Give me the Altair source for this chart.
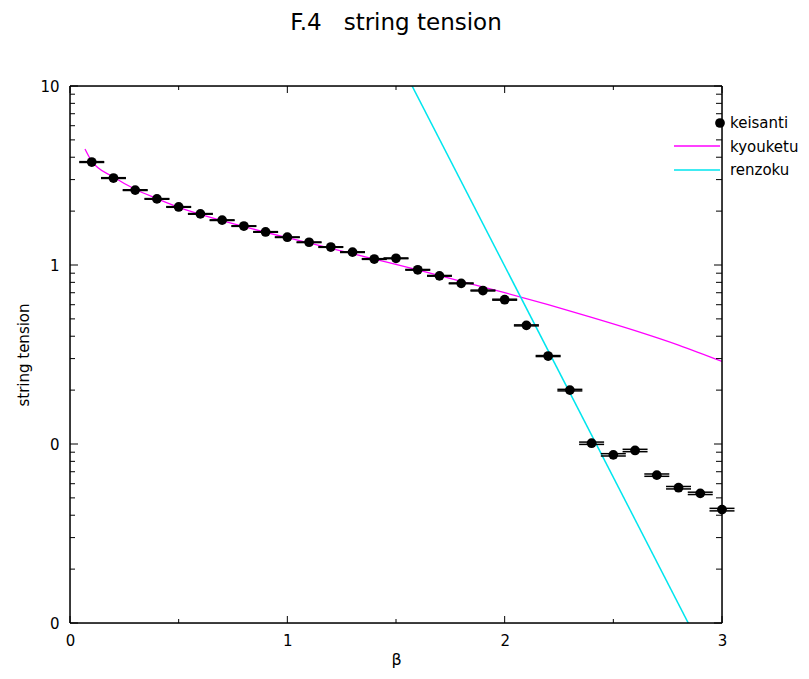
import altair as alt
import pandas as pd

# ---- data ----
beta = [0.1, 0.2, 0.3, 0.4, 0.5, 0.6, 0.7, 0.8, 0.9, 1.0,
        1.1, 1.2, 1.3, 1.4, 1.5, 1.6, 1.7, 1.8, 1.9, 2.0,
        2.1, 2.2, 2.3, 2.4, 2.5, 2.6, 2.7, 2.8, 2.9, 3.0]
sigma = [3.76, 3.06, 2.62, 2.34, 2.11, 1.93, 1.78, 1.65, 1.53, 1.43,
         1.34, 1.26, 1.18, 1.08, 1.09, 0.94, 0.87, 0.79, 0.72, 0.64,
         0.46, 0.31, 0.20, 0.101, 0.087, 0.092, 0.067, 0.057, 0.053, 0.043]
sigma_err = [0.02, 0.015, 0.012, 0.01, 0.009, 0.008, 0.007, 0.006, 0.006, 0.005,
             0.005, 0.005, 0.005, 0.005, 0.005, 0.004, 0.004, 0.004, 0.004, 0.004,
             0.003, 0.002, 0.002, 0.0015, 0.0013, 0.0014, 0.001, 0.0009, 0.0008, 0.0007]

strong_beta = [0.069, 0.1, 0.2, 0.3, 0.4, 0.5, 0.6, 0.8, 1.0, 1.2, 1.4,
               1.6, 1.8, 2.0, 2.2, 2.4, 2.6, 2.8, 3.0]
strong_sigma = [4.45, 3.8, 3.1, 2.65, 2.35, 2.1, 1.92, 1.64, 1.42, 1.24, 1.08,
                0.94, 0.81, 0.70, 0.60, 0.51, 0.43, 0.357, 0.289]

cont_beta = [1.55, 2.90]
cont_sigma = [11.4, 0.0074]

x_major = [0, 1, 2, 3]
x_minor = [0.5, 1.5, 2.5]
y_major = [0.01, 0.1, 1, 10]
y_minor = [2e-2, 3e-2, 4e-2, 5e-2, 6e-2, 7e-2, 8e-2, 9e-2,
           0.2, 0.3, 0.4, 0.5, 0.6, 0.7, 0.8, 0.9,
           2, 3, 4, 5, 6, 7, 8, 9]

legend_names = ["keisanti", "kyouketu", "renzoku"]

W, H = 652, 537
FONT = "DejaVu Sans"

pts = pd.DataFrame({"beta": beta, "sigma": sigma, "err": sigma_err})
strong = pd.DataFrame({"beta": strong_beta, "sigma": strong_sigma})
cont = pd.DataFrame({"beta": cont_beta, "sigma": cont_sigma})

xs = alt.Scale(domain=[0, 3], nice=False, zero=False)
ys = alt.Scale(type="log", domain=[0.01, 10], nice=False)

xaxis = alt.Axis(values=x_major, format="d", ticks=False, domain=False, grid=False,
                 labelFlush=False,
                 labelPadding=10, titlePadding=3, labelFont=FONT, labelFontSize=15,
                 titleFont=FONT, titleFontSize=16, titleFontWeight="normal",
                 labelColor="black", titleColor="black")
yaxis = alt.Axis(values=y_major, ticks=False, domain=False, grid=False,
                 labelFlush=False,
                 labelExpr="datum.value > 5 ? '10' : (datum.value > 0.5 ? '1' : '0')",
                 labelPadding=11, titlePadding=8, labelFont=FONT, labelFontSize=15,
                 titleFont=FONT, titleFontSize=15, titleFontWeight="normal",
                 labelColor="black", titleColor="black")


def X(f):
    return alt.X(f, type="quantitative", scale=xs, axis=xaxis, title="β")


def Y(f):
    return alt.Y(f, type="quantitative", scale=ys, axis=yaxis, title="string tension")


base_pts = alt.Chart(pts).transform_calculate(
    lo="datum.sigma - datum.err", hi="datum.sigma + datum.err",
    xl="datum.beta - 0.0575", xh="datum.beta + 0.0575")

err_lo = base_pts.mark_rule(color="black", strokeWidth=1.5).encode(
    x=X("xl"), x2="xh", y=Y("lo"))
err_hi = base_pts.mark_rule(color="black", strokeWidth=1.5).encode(
    x=X("xl"), x2="xh", y=Y("hi"))
err_v = base_pts.mark_rule(color="black", strokeWidth=1).encode(
    x=X("beta"), y=Y("lo"), y2="hi")

points = alt.Chart(pts).mark_circle(color="black", opacity=1, size=95).encode(
    x=X("beta"), y=Y("sigma"))

strong_line = alt.Chart(strong).mark_line(color="#ff00ff", strokeWidth=1.3, clip=True,
                                          interpolate="monotone").encode(
    x=X("beta"), y=Y("sigma"))
cont_line = alt.Chart(cont).mark_line(color="#00e5ee", strokeWidth=1.5, clip=True).encode(
    x=X("beta"), y=Y("sigma"))

# tick marks (inside, mirrored)
ym = pd.DataFrame({"v": y_major})
yn = pd.DataFrame({"v": y_minor})
xm = pd.DataFrame({"v": x_major})
xn = pd.DataFrame({"v": x_minor})
tk = dict(color="black", strokeWidth=1)
ticks = [
    alt.Chart(ym).mark_rule(**tk).encode(y=Y("v"), x=alt.value(0), x2=alt.value(8)),
    alt.Chart(ym).mark_rule(**tk).encode(y=Y("v"), x=alt.value(W), x2=alt.value(W - 8)),
    alt.Chart(yn).mark_rule(**tk).encode(y=Y("v"), x=alt.value(0), x2=alt.value(5)),
    alt.Chart(yn).mark_rule(**tk).encode(y=Y("v"), x=alt.value(W), x2=alt.value(W - 6)),
    alt.Chart(xm).mark_rule(**tk).encode(x=X("v"), y=alt.value(H), y2=alt.value(H - 7)),
    alt.Chart(xm).mark_rule(**tk).encode(x=X("v"), y=alt.value(0), y2=alt.value(7)),
    alt.Chart(xn).mark_rule(**tk).encode(x=X("v"), y=alt.value(H), y2=alt.value(H - 4)),
    alt.Chart(xn).mark_rule(**tk).encode(x=X("v"), y=alt.value(0), y2=alt.value(4)),
]

# plot frame
one = pd.DataFrame({"a": [0]})
fr = dict(color="black", strokeWidth=1.5)
frame = [
    alt.Chart(one).mark_rule(**fr).encode(x=alt.value(0), x2=alt.value(W), y=alt.value(0)),
    alt.Chart(one).mark_rule(**fr).encode(x=alt.value(0), x2=alt.value(W), y=alt.value(H)),
    alt.Chart(one).mark_rule(**fr).encode(y=alt.value(0), y2=alt.value(H), x=alt.value(0)),
    alt.Chart(one).mark_rule(**fr).encode(y=alt.value(0), y2=alt.value(H), x=alt.value(W)),
]

# legend (top right, gnuplot style)
leg = [
    alt.Chart(one).mark_circle(color="black", opacity=1, size=95).encode(
        x=alt.value(W - 2), y=alt.value(37)),
    alt.Chart(one).mark_rule(color="#ff00ff", strokeWidth=1.3).encode(
        x=alt.value(W - 48), x2=alt.value(W - 2), y=alt.value(60)),
    alt.Chart(one).mark_rule(color="#00e5ee", strokeWidth=1.5).encode(
        x=alt.value(W - 48), x2=alt.value(W - 2), y=alt.value(84)),
]
for i, name in enumerate(legend_names):
    leg.append(alt.Chart(pd.DataFrame({"t": [name]})).mark_text(
        align="left", baseline="middle", font=FONT, fontSize=15, color="black").encode(
        text="t:N", x=alt.value(W + 8), y=alt.value(37 + 23.5 * i)))

chart = alt.layer(
    strong_line, cont_line, err_lo, err_hi, err_v, points, *ticks, *frame, *leg
).properties(
    width=W, height=H,
    title=alt.TitleParams("F.4\u00a0\u00a0 string tension", font=FONT, fontSize=23,
                          fontWeight="normal", color="black", anchor="middle",
                          frame="group", baseline="alphabetic", offset=26),
    autosize=alt.AutoSizeParams(type="none"),
    padding={"left": 62, "top": 78, "right": 79, "bottom": 48},
).configure_view(strokeWidth=0).configure(background="white")

chart.save("out.html", embed_options={"renderer": "svg", "actions": False})
